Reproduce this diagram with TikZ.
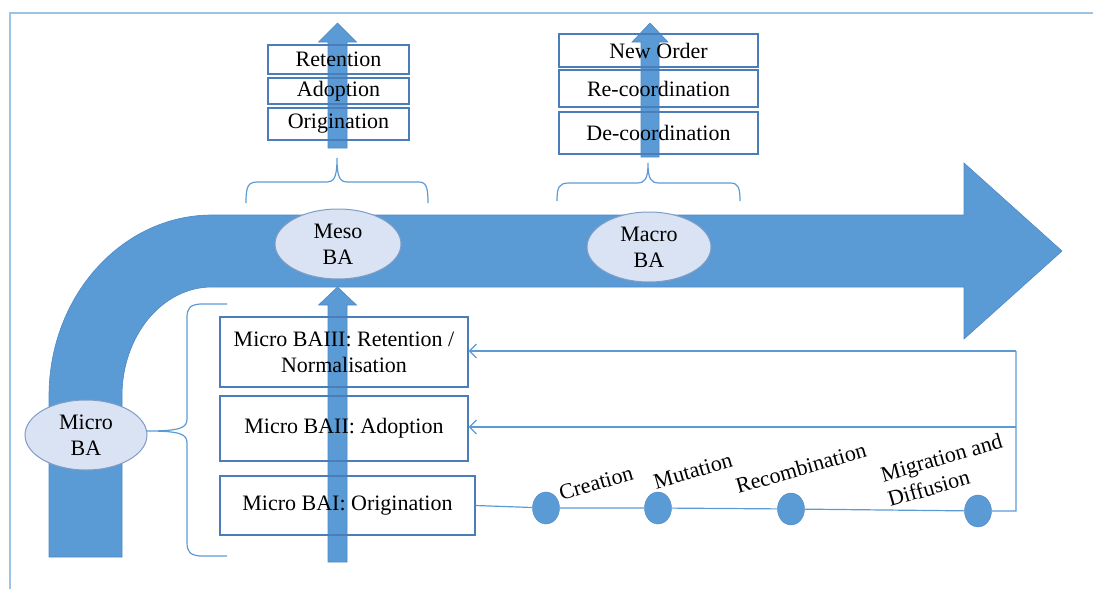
\documentclass[tikz,border=0pt]{standalone}
\usepackage{fontspec}
\setmainfont{Liberation Serif}
\usetikzlibrary{shapes.geometric,arrows.meta,calc}
\definecolor{bandblue}{HTML}{5B9BD5}
\definecolor{banddraw}{HTML}{4F88C6}
\definecolor{ovalfill}{HTML}{DAE3F3}
\definecolor{ovaldraw}{HTML}{7F9CC6}
\definecolor{boxdraw}{HTML}{4A7EBB}
\definecolor{thinblue}{HTML}{5B9BD5}
\definecolor{framecol}{HTML}{9DC3E6}
\begin{document}
\begin{tikzpicture}[x=1pt,y=-1pt,font=\fontsize{22}{26}\selectfont,
  stagebox/.style={draw=boxdraw,line width=1.2pt,inner sep=0pt,align=center},
  oval/.style={ellipse,draw=ovaldraw,fill=ovalfill,line width=1pt,inner sep=0pt,
    minimum width=126pt,minimum height=70pt,align=center},
  dot/.style={ellipse,draw=banddraw,fill=bandblue,inner sep=0pt,
    minimum width=27pt,minimum height=32pt},
  flow/.style={fill=bandblue,draw=banddraw,line width=0.6pt},
  thinline/.style={draw=thinblue,line width=1.2pt},
  brace/.style={draw=thinblue,line width=1.2pt},
  fb/.style={thinline,-{Straight Barb[length=7pt,width=14pt]}},
  phase/.style={rotate=16,inner sep=0pt}
]
\useasboundingbox (0,0) rectangle (1093,589);

% outer frame
\draw[framecol,line width=1.5pt] (10,589) -- (10,13) -- (1093,13);

% bent main arrow
\path[flow] (49,557) -- (49,396)
  .. controls (49,296) and (122,215) .. (212,215)
  -- (964,215) -- (964,163) -- (1062,251) -- (964,339) -- (964,287)
  -- (212,287)
  .. controls (162,287) and (122,336) .. (122,396)
  -- (122,557) -- cycle;

% level ovals
\node[oval] (meso) at (338,244) {Meso\\BA};
\node[oval,minimum width=124pt] (macro) at (649,247) {Macro\\BA};
\node[oval,minimum width=122pt] (micro) at (86,435) {Micro\\BA};

% braces
\draw[brace] (246,203) .. controls (246,186) and (248,182) .. (258,182)
  -- (326,182) .. controls (334,182) and (337,178) .. (337,158)
  .. controls (337,178) and (340,182) .. (348,182)
  -- (418,182) .. controls (426,182) and (428,186) .. (428,203);
\draw[brace] (557,201) .. controls (557,187) and (559,183) .. (569,183)
  -- (637,183) .. controls (645,183) and (648,179) .. (648,163)
  .. controls (648,179) and (651,183) .. (659,183)
  -- (730,183) .. controls (738,183) and (740,187) .. (740,201);
\draw[brace] (227,304) -- (200,304) .. controls (190,305) and (187,308) .. (187,318)
  -- (187,419) .. controls (187,428) and (180,431) .. (147,431)
  .. controls (180,431) and (187,434) .. (187,443)
  -- (187,542) .. controls (187,552) and (190,555) .. (200,556) -- (227,556);

% upward arrows
\path[flow] (328,148) -- (328,42) -- (318.5,42) -- (337.5,23) -- (356.5,42)
  -- (347,42) -- (347,148) -- cycle;
\path[flow] (641,157) -- (641,42) -- (632,42) -- (650,23) -- (668,42)
  -- (659,42) -- (659,157) -- cycle;
\path[flow] (328,562) -- (328,305) -- (318.5,305) -- (337.5,287) -- (356.5,305)
  -- (347,305) -- (347,562) -- cycle;

% meso stages
\node[stagebox,minimum width=141pt,minimum height=29pt] (ret) at (338.5,59.5) {Retention};
\node[stagebox,minimum width=141pt,minimum height=26pt] (ado) at (338.5,91) {Adoption};
\node[stagebox,minimum width=141pt,minimum height=32pt] (ori) at (338.5,124) {Origination};

% macro stages
\node[stagebox,minimum width=199pt,minimum height=33pt] (neworder) at (658.5,50.5) {New Order};
\node[stagebox,minimum width=199pt,minimum height=37pt] (recoord) at (658.5,88.5) {Re-coordination};
\node[stagebox,minimum width=199pt,minimum height=42pt] (decoord) at (658.5,133) {De-coordination};

% micro stages
\node[stagebox,minimum width=248pt,minimum height=70pt] (bIII) at (344,352)
  {Micro BAIII: Retention /\\Normalisation};
\node[stagebox,minimum width=248pt,minimum height=65pt] (bII) at (344,428.5)
  {Micro BAII: Adoption};
\node[stagebox,minimum width=255pt,minimum height=59pt] (bI) at (347.5,505.5)
  {Micro BAI: Origination};

% variation mechanisms
\node[dot] (d1) at (546,508) {};
\node[dot] (d2) at (658,508) {};
\node[dot] (d3) at (791,509) {};
\node[dot] (d4) at (978,511) {};
\coordinate (c1) at (1016,511);
\coordinate (c2) at (1016,427);
\coordinate (c3) at (1016,351);
\draw[thinline] (bI.east) -- (d1) -- (d2) -- (d3) -- (d4) -- (c1) -- (c3);
\draw[fb] (c3) -- (c3 -| bIII.east);
\draw[fb] (c2) -- (c2 -| bII.east);

\node[phase] (lcre) at (596,483) {Creation};
\node[phase] (lmut) at (693,471) {Mutation};
\node[phase] (lrec) at (801,468) {Recombination};
\node[phase,align=left] (lmig) at (945,470) {Migration and\\Diffusion};
\end{tikzpicture}
\end{document}
